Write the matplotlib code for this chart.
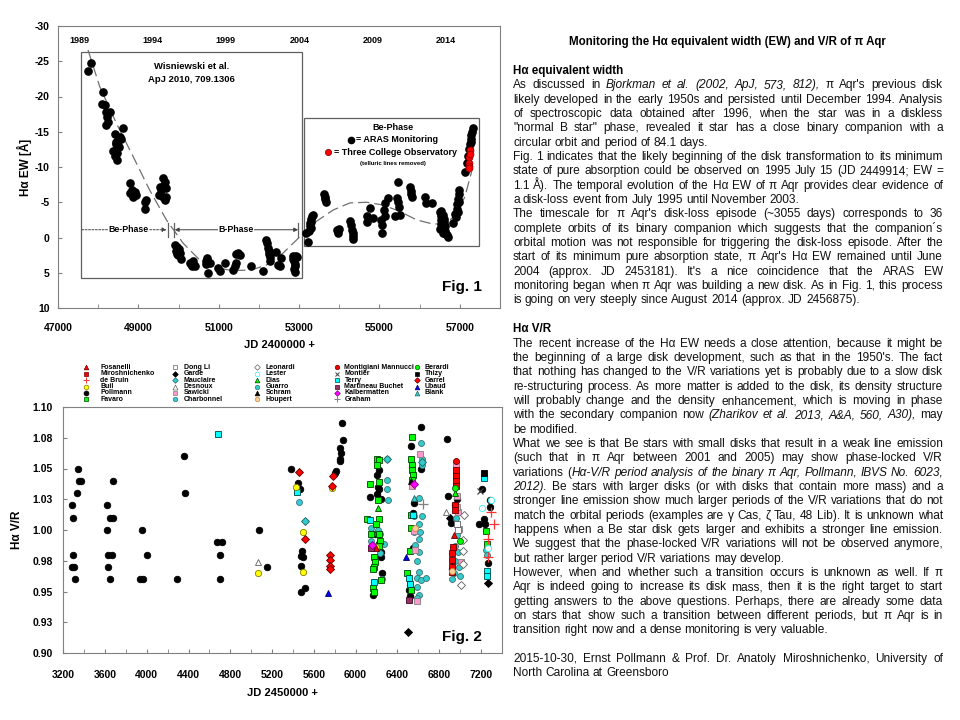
import matplotlib
matplotlib.use('Agg')
import matplotlib.pyplot as plt
from matplotlib.lines import Line2D
from matplotlib.patches import Rectangle
from matplotlib.font_manager import FontProperties

plt.rcParams['font.family'] = ['Liberation Sans', 'DejaVu Sans']
plt.rcParams['axes.unicode_minus'] = False

# ---------------- Fig. 1 data (JD-2400000, H-alpha EW) ----------------
wis_points = [(47747, -23.6), (47830, -24.7), (48120, -20.7), (48104, -18.9), (48162, -18.8),
              (48204, -17.8), (48287, -17.8), (48220, -17.1), (48204, -15.9), (48250, -16.4),
              (48411, -14.7), (48453, -13.5), (48494, -13.0), (48536, -14.2), (48577, -14.0),
              (48619, -15.5), (48470, -12.0), (48380, -12.3), (48420, -11.6), (48460, -11.0),
              (48440, -13.2), (48520, -12.8), (48500, -13.8),
              (48785, -7.7), (48830, -6.8), (48868, -6.2), (48870, -5.8), (48910, -6.5),
              (48800, -6.3), (48950, -6.0),
              (49158, -5.1), (49200, -5.3), (49170, -4.0),
              (49515, -6.0), (49532, -7.1), (49615, -8.4), (49573, -6.7), (49615, -5.8),
              (49656, -7.9), (49698, -7.0), (49656, -5.3), (49698, -5.8), (49640, -7.5),
              (49920, 1.0), (49960, 1.3), (49940, 1.9), (49990, 2.5), (50030, 2.2),
              (50050, 3.1), (49970, 2.3), (50010, 1.6),
              (50279, 3.6), (50320, 3.8), (50362, 3.3), (50403, 4.0), (50330, 4.1), (50380, 3.9),
              (50694, 3.3), (50740, 3.5), (50720, 2.9), (50690, 3.8), (50730, 5.0), (50777, 3.6),
              (50984, 4.3), (51026, 4.8), (51150, 3.6),
              (51358, 4.6), (51399, 4.1), (51440, 3.6), (51482, 2.2), (51524, 2.5), (51420, 2.3),
              (51814, 4.0), (52105, 4.8),
              (52188, 0.3), (52200, 0.8), (52229, 1.5), (52250, 1.9), (52271, 2.7), (52287, 3.3),
              (52260, 2.3),
              (52437, 2.0), (52478, 3.9), (52520, 4.0), (52561, 2.9),
              (52852, 2.6), (52870, 3.4), (52893, 4.0), (52880, 4.5), (52900, 4.9), (52935, 2.6),
              (52950, 2.7), (52860, 3.0), (52910, 3.7)]

aras_points = [(53167, -0.6), (53225, 0.6), (53250, -0.9), (53267, -1.6), (53290, -2.2),
               (53308, -2.6), (53330, -3.0), (53350, -3.2), (53300, -1.3), (53280, -2.0),
               (53620, -6.2), (53640, -5.5), (53660, -5.0), (53650, -5.8),
               (53931, -1.1), (53960, -0.6), (53990, -1.2),
               (54263, -2.3), (54290, -1.8), (54320, -1.0), (54346, -0.2), (54350, 0.2), (54330, -0.6),
               (54678, -3.0), (54700, -2.2), (54760, -4.2), (54840, -2.7),
               (55050, -2.5), (55060, -1.8), (55070, -0.6), (55110, -3.9), (55130, -3.0),
               (55140, -4.9), (55220, -5.6), (55380, -3.0),
               (55460, -7.9), (55440, -5.6), (55460, -5.0), (55480, -4.3), (55500, -3.2),
               (55770, -7.2), (55790, -6.6), (55800, -5.8), (55780, -6.1),
               (56130, -5.8), (56150, -4.9), (56300, -4.9),
               (56500, -3.6), (56520, -3.0), (56530, -2.5), (56540, -1.9), (56560, -1.4),
               (56570, -1.0), (56580, -3.2), (56600, -2.2), (56620, -1.6), (56640, -0.9),
               (56660, -0.5), (56680, -0.3), (56700, -0.1), (56510, -1.2), (56550, -2.8),
               (56590, -0.7), (56530, -3.8), (56610, -2.6),
               (56840, -2.0), (56880, -3.4), (56900, -2.9), (56920, -4.0), (56940, -4.7),
               (56960, -5.5), (56980, -6.2), (56990, -6.8), (56970, -5.0), (56950, -3.6),
               (57126, -9.3), (57170, -10.5), (57200, -11.5), (57230, -12.5), (57250, -13.2),
               (57270, -14.0), (57290, -14.5), (57300, -15.0), (57317, -15.5), (57280, -13.5)]

tco_points = [(57250, -12.4), (57230, -11.4), (57220, -10.6), (57240, -10.2), (57260, -11.8),
              (57230, -9.9)]

fit_jd = [47747, 48038, 48453, 48868, 49283, 49698, 50113, 50528, 50943, 51358, 51815, 52188,
          52603, 53018, 53433, 53848, 54263, 54678, 55093, 55508, 55923, 56338, 56670, 56919,
          57127, 57292]
fit_ew = [-26.6, -21.4, -16.2, -11.5, -6.7, -2.5, 0.8, 3.2, 4.3, 4.7, 4.6, 3.9,
          2.2, -0.1, -2.3, -3.9, -4.9, -5.0, -4.6, -3.7, -2.5, -1.9, -2.0, -3.4,
          -5.8, -9.3]

year_ticks = [1989, 1994, 1999, 2004, 2009, 2014]

# ---------------- Fig. 2 data (JD-2450000, H-alpha V/R) ----------------
fosanelli = [(6944, 0.996), (6200, 0.985)]
miroshnichenko = [(6960, 1.049), (6962, 1.044), (6962, 1.040), (6958, 1.036), (6952, 1.020),
                  (6950, 1.016), (6934, 0.986), (6928, 0.981), (6928, 0.976), (6928, 0.970),
                  (6928, 0.966)]
de_bruin = [(7302, 1.015), (7322, 1.005), (7264, 0.993), (7270, 0.978)]
buil = [(5062, 0.965), (5434, 1.035), (5498, 0.998), (5498, 0.966), (5777, 1.034), (6196, 0.986)]
pollmann = [(3280, 1.020), (3296, 1.010), (3296, 0.980), (3280, 0.970), (3302, 0.970), (3315, 0.960),
            (3344, 1.050), (3354, 1.040), (3366, 1.040), (3334, 1.030),
            (3616, 1.020), (3648, 1.010), (3680, 1.010), (3616, 1.000), (3632, 0.980), (3664, 0.980),
            (3632, 0.970), (3648, 0.960), (3680, 1.040),
            (3952, 1.000), (4000, 0.980), (3936, 0.960), (3962, 0.960), (4294, 0.960), (4352, 1.060),
            (4362, 1.030), (4672, 0.990), (4720, 0.990), (4704, 0.980), (4704, 0.960),
            (5072, 1.000), (5152, 0.970), (5383, 1.050), (5446, 1.038), (5463, 1.033), (5489, 0.983),
            (5480, 0.979), (5495, 0.978), (5479, 0.971), (5475, 0.950), (5520, 0.953),
            (5873, 1.087), (5882, 1.073), (5852, 1.067), (5858, 1.063), (5852, 1.058), (5848, 1.056),
            (5809, 1.048), (5800, 1.046),
            (6224, 1.049), (6208, 1.045), (6214, 1.035), (6224, 1.033), (6208, 1.029), (6134, 1.027),
            (6240, 1.025), (6182, 0.997), (6240, 0.982), (6246, 0.978), (6256, 0.965), (6170, 0.947),
            (6630, 1.084), (6528, 1.068), (6624, 1.050), (6560, 1.022), (6554, 1.014), (6510, 0.951),
            (6520, 0.946), (6555, 0.985),
            (6877, 1.074), (6890, 1.028), (6912, 1.006), (6950, 1.020), (6970, 1.025), (6930, 0.975),
            (6920, 0.968),
            (7216, 1.033), (7290, 1.024), (7286, 1.019), (7184, 1.005), (7232, 1.009), (7238, 1.005),
            (7270, 0.973)]
favaro = [(6202, 1.058), (6227, 1.057), (6208, 1.053), (6138, 1.037), (6224, 1.039), (6214, 1.024),
          (6106, 1.009), (6227, 1.009), (6192, 1.005), (6150, 0.997), (6224, 0.997), (6234, 0.991),
          (6224, 0.987), (6176, 0.978), (6182, 0.974), (6176, 0.970), (6170, 0.968), (6246, 0.959),
          (6170, 0.953), (6180, 0.950),
          (6538, 1.076), (6534, 1.058), (6544, 1.053), (6538, 1.049), (6550, 1.045), (6544, 1.041),
          (6528, 1.012), (6528, 1.002), (6522, 0.983), (6490, 0.965), (6522, 0.955), (6528, 0.951),
          (7248, 0.999), (7258, 0.989)]
dong_li = [(6976, 1.005), (6980, 1.000)]
garde = [(6502, 0.917), (7264, 0.957), (6230, 0.990), (6900, 1.010)]
mauclaire = [(5514, 1.007), (6298, 1.058), (6640, 1.055)]
desnoux = [(5062, 0.974), (6864, 1.015)]
sawicki = [(6614, 1.062), (6544, 1.036), (6560, 0.999), (6566, 0.984), (6592, 0.942), (6960, 1.053),
           (6970, 1.028), (6982, 1.015), (6975, 1.019), (6992, 1.001), (7008, 0.974), (6965, 1.045)]
charbonnel = [(5456, 1.023), (6160, 0.997), (6560, 0.998)]
leonardi = [(7040, 1.012), (7034, 0.992), (7027, 0.983), (7034, 0.972), (7014, 0.955)]
lester = [(7216, 1.018), (7302, 1.024), (7270, 0.985)]
dias = [(6214, 1.018), (6950, 1.030)]
guarro = [(6298, 1.058), (6298, 1.041), (6298, 1.033), (6310, 1.024), (6150, 1.002), (6234, 0.997),
          (6272, 0.989), (6192, 0.987), (6234, 0.981), (6256, 0.960), (6176, 0.985), (6216, 1.000),
          (6150, 0.991),
          (6630, 1.071), (6640, 1.058), (6640, 1.053), (6608, 1.026), (6528, 1.012), (6560, 1.011),
          (6640, 1.011), (6608, 1.005), (6618, 0.998), (6608, 0.993), (6566, 0.988), (6608, 0.982),
          (6592, 0.975), (6608, 0.966), (6592, 0.961), (6624, 0.959), (6672, 0.961), (6592, 0.954),
          (6608, 0.947), (6586, 0.945),
          (6976, 0.996), (6950, 0.987), (6928, 0.960), (6952, 0.975), (6990, 0.970), (6940, 0.965),
          (6960, 1.010), (6985, 0.982), (7000, 0.963),
          (7248, 0.984), (7262, 0.980)]
schram = [(6535, 1.040)]
houpert = [(6566, 1.002), (6928, 0.967)]
montigiani = [(6960, 1.056)]
montier = [(7194, 1.032)]
terry = [(4682, 1.078), (5440, 1.031), (6138, 1.008), (6176, 0.958), (6512, 0.961), (6520, 0.956),
         (7226, 1.0425), (7258, 0.967), (7262, 0.963), (6555, 1.012)]
martineau = [(6150, 0.985), (6512, 0.943)]
kalbermatten = [(6160, 0.988), (6560, 1.037)]
graham = [(6650, 1.021)]
berardi = [(6998, 0.991), (6952, 1.034)]
thizy = [(7226, 1.046)]
garrel = [(5456, 1.047), (5511, 0.993), (5783, 1.044), (5777, 1.036), (5752, 0.980), (5758, 0.976),
          (5752, 0.971), (5755, 0.968)]
ubaud = [(5738, 0.949), (6483, 0.978)]
blank = [(6560, 1.026)]

vr_tick_values = [0.900, 0.925, 0.950, 0.975, 1.000, 1.025, 1.050, 1.075, 1.100]
vr_tick_labels = ['0.90', '0.93', '0.95', '0.98', '1.00', '1.03', '1.05', '1.08', '1.10']

W, H = 960, 720
fig = plt.figure(figsize=(9.6, 7.2), dpi=100)
fig.patch.set_facecolor('white')


def fx(px):
    return px / W


def fy(py):
    return 1 - py / H


GRAY = '#808080'

# ======================= Fig. 1 =======================
ax1 = fig.add_axes([fx(58), fy(308), 442 / W, 282 / H])
ax1.set_xlim(47000, 58000)
ax1.set_ylim(10, -30)
for s in ax1.spines.values():
    s.set_color(GRAY)
ax1.set_xticks(range(47000, 58001, 2000))
ax1.set_xticks(range(48000, 58001, 2000), minor=True)
ax1.set_yticks(range(-30, 11, 5))
ax1.tick_params(axis='both', which='both', direction='in', length=3, color=GRAY,
                labelsize=7.5, top=False, right=False)
ax1.tick_params(axis='x', pad=11)
ax1.tick_params(axis='y', pad=6)
for lab in ax1.get_xticklabels() + ax1.get_yticklabels():
    lab.set_fontweight('bold')
ax1.set_xlabel('JD 2400000 +', fontsize=8, fontweight='bold', labelpad=5)
ax1.set_ylabel('Hα EW [Å]', fontsize=8.5, fontweight='bold', labelpad=2)

ax1.plot(fit_jd, fit_ew, color='#707070', lw=0.9, dashes=(9, 4), zorder=2)
ax1.plot([p[0] for p in wis_points], [p[1] for p in wis_points], 'o', color='black', ms=5.2, zorder=3)
ax1.plot([p[0] for p in aras_points], [p[1] for p in aras_points], 'o', color='black', ms=5.2, zorder=3)
ax1.plot([p[0] for p in tco_points], [p[1] for p in tco_points], 'o', mfc='red', mec='#800000',
         mew=0.5, ms=5.0, zorder=4)


def jd2yr(jd):
    return 1989 + (jd - 47527.5) / 365.25


def yr2jd(yr):
    return 47527.5 + (yr - 1989) * 365.25


sec = ax1.secondary_xaxis('top', functions=(jd2yr, yr2jd))
sec.set_xticks(year_ticks)
sec.tick_params(length=0, pad=-14, labelsize=6.5)
sec.spines['top'].set_visible(False)
for lab in sec.get_xticklabels():
    lab.set_fontweight('bold')

ax1.add_patch(Rectangle((47572, -26.3), 53070 - 47572, 5.7 + 26.3, fill=False, ec='#606060', lw=0.9, zorder=1))
ax1.add_patch(Rectangle((53119, -17.0), 57473 - 53119, 1.2 + 17.0, fill=False, ec='#606060', lw=0.9, zorder=1))

fig.text(fx(191.7), fy(66.7), 'Wisniewski et al.', ha='center', va='center', fontsize=6.8, fontweight='bold')
fig.text(fx(191.7), fy(79), 'ApJ 2010, 709.1306', ha='center', va='center', fontsize=6.8, fontweight='bold')
fig.text(fx(393.3), fy(127.7), 'Be-Phase', ha='center', va='center', fontsize=6.5, fontweight='bold')
fig.add_artist(Line2D([fx(350.7)], [fy(140)], marker='o', color='black', ms=4.5, transform=fig.transFigure))
fig.text(fx(355.5), fy(140), '= ARAS Monitoring', ha='left', va='center', fontsize=6.5, fontweight='bold')
fig.add_artist(Line2D([fx(328.3)], [fy(152.3)], marker='o', mfc='red', mec='#800000', mew=0.5, ms=4.5,
                      transform=fig.transFigure))
fig.text(fx(333.5), fy(152.3), '= Three College Observatory', ha='left', va='center', fontsize=6.5,
         fontweight='bold')
fig.text(fx(392.7), fy(163), '(telluric lines removed)', ha='center', va='center', fontsize=4.3,
         fontweight='bold')
fig.text(fx(461.7), fy(287.3), 'Fig. 1', ha='center', va='center', fontsize=11, fontweight='bold')

ax1.annotate('', xy=(49700, -1.1), xytext=(47590, -1.1),
             arrowprops=dict(arrowstyle='-|>', ls=(0, (2, 1.5)), lw=0.7, color='#404040',
                             mutation_scale=6, shrinkA=0, shrinkB=0))
ax1.annotate('', xy=(49905, -1.1), xytext=(52976, -1.1),
             arrowprops=dict(arrowstyle='<|-|>', lw=0.7, color='#404040', mutation_scale=6,
                             shrinkA=0, shrinkB=0))
for xv in (49735, 49890, 52980):
    ax1.plot([xv, xv], [-2.0, -0.1], color='#606060', lw=0.9)
ax1.text(48743, -1.1, 'Be-Phase', ha='center', va='center', fontsize=6.3, fontweight='bold',
         bbox=dict(fc='white', ec='none', pad=0.3))
ax1.text(51424, -1.1, 'B-Phase', ha='center', va='center', fontsize=6.3, fontweight='bold',
         bbox=dict(fc='white', ec='none', pad=0.3))

# ======================= Fig. 2 =======================
ax2 = fig.add_axes([fx(63.3), fy(653), 438.4 / W, 246 / H])
ax2.set_xlim(3200, 7400)
ax2.set_ylim(0.9, 1.1)
for s in ax2.spines.values():
    s.set_color(GRAY)
ax2.set_xticks(range(3200, 7201, 400))
ax2.set_xticks(range(3400, 7401, 400), minor=True)
ax2.set_yticks(vr_tick_values)
ax2.set_yticklabels(vr_tick_labels)
ax2.tick_params(axis='both', which='both', direction='in', length=3, color=GRAY,
                labelsize=7.5, top=False, right=False)
ax2.tick_params(axis='x', pad=12)
ax2.tick_params(axis='y', pad=7.5)
for lab in ax2.get_xticklabels() + ax2.get_yticklabels():
    lab.set_fontweight('bold')
ax2.set_xlabel('JD 2450000 +', fontsize=8, fontweight='bold', labelpad=6)
ax2.set_ylabel('Hα V/R', fontsize=8.5, fontweight='bold', labelpad=7)

legend_entries = [
    ('Fosanelli', fosanelli, '^', 'red', '#600000', 4.5),
    ('Miroshnichenko', miroshnichenko, 's', 'red', '#600000', 4.5),
    ('de Bruin', de_bruin, '+', '#ff3333', '#ff3333', 6.5),
    ('Buil', buil, 'o', '#ffff00', '#808000', 4.5),
    ('Pollmann', pollmann, 'o', 'black', 'black', 4.7),
    ('Favaro', favaro, 's', '#00ff00', '#004000', 4.5),
    ('Dong Li', dong_li, 's', 'white', '#606060', 4.5),
    ('Garde', garde, 'D', 'black', 'black', 3.8),
    ('Mauclaire', mauclaire, 'D', '#33cccc', '#206060', 3.8),
    ('Desnoux', desnoux, '^', 'white', '#606060', 4.8),
    ('Sawicki', sawicki, 's', '#ff99cc', '#808080', 4.5),
    ('Charbonnel', charbonnel, 'o', '#33ccdd', '#407080', 4.3),
    ('Leonardi', leonardi, 'D', 'white', '#606060', 3.8),
    ('Lester', lester, 'o', 'white', '#33eeff', 4.5),
    ('Dias', dias, '^', '#00ff00', '#004000', 4.5),
    ('Guarro', guarro, 'o', '#33cccc', '#407070', 4.3),
    ('Schram', schram, '^', 'black', 'black', 4.5),
    ('Houpert', houpert, 'o', '#ffcc99', '#cc8844', 4.3),
    ('Montigiani Mannucci', montigiani, 'o', 'red', '#600000', 4.3),
    ('Montier', montier, 'x', '#404040', '#404040', 4.0),
    ('Terry', terry, 's', '#00ffff', '#004040', 4.5),
    ('Martineau Buchet', martineau, 's', '#993366', '#400020', 4.5),
    ('Kalbermatten', kalbermatten, 'D', '#ff00ff', '#800080', 3.8),
    ('Graham', graham, '+', '#808080', '#808080', 6.5),
    ('Berardi', berardi, 'o', '#00ff00', '#006000', 4.3),
    ('Thizy', thizy, 's', 'black', 'black', 4.5),
    ('Garrel', garrel, 'D', 'red', '#600000', 3.8),
    ('Ubaud', ubaud, '^', '#0000ff', '#000060', 4.5),
    ('Blank', blank, '^', '#33cccc', '#206060', 4.5),
]

draw_order = ['Pollmann', 'Garde', 'Guarro', 'Charbonnel', 'Mauclaire', 'Favaro', 'Sawicki',
              'Miroshnichenko', 'Terry', 'Buil', 'Garrel', 'Fosanelli', 'de Bruin', 'Dong Li',
              'Desnoux', 'Leonardi', 'Lester', 'Dias', 'Schram', 'Houpert', 'Montigiani Mannucci',
              'Montier', 'Martineau Buchet', 'Kalbermatten', 'Graham', 'Berardi', 'Thizy',
              'Ubaud', 'Blank']
by_name = {e[0]: e for e in legend_entries}
for z, name in enumerate(draw_order):
    _, data, mk, fc, ec, ms = by_name[name]
    xs = [p[0] for p in data]
    ys = [p[1] for p in data]
    if mk in ('+', 'x'):
        ax2.plot(xs, ys, mk, color=fc, ms=ms, mew=0.9, zorder=3 + z * 0.01)
    else:
        ax2.plot(xs, ys, mk, mfc=fc, mec=ec, mew=0.6, ms=ms, zorder=3 + z * 0.01)

fig.text(fx(461.7), fy(637.3), 'Fig. 2', ha='center', va='center', fontsize=11, fontweight='bold')

col_marker_x = [85.7, 175, 256.7, 336.7, 417.3]
col_text_x = [100.5, 184, 265.5, 344.5, 424.5]
for i, (name, data, mk, fc, ec, ms) in enumerate(legend_entries):
    col, row = divmod(i, 6)
    yy = 367.2 + row * 6.45
    if mk in ('+', 'x'):
        fig.add_artist(Line2D([fx(col_marker_x[col])], [fy(yy)], marker=mk, color=fc, ms=ms * 0.7,
                              mew=0.7, transform=fig.transFigure))
    else:
        fig.add_artist(Line2D([fx(col_marker_x[col])], [fy(yy)], marker=mk, mfc=fc, mec=ec, mew=0.5,
                              ms=ms * 0.75, transform=fig.transFigure))
    fig.text(fx(col_text_x[col]), fy(yy), name, ha='left', va='center', fontsize=5.0, fontweight='bold')

# ======================= Right text column =======================
title = 'Monitoring the Hα equivalent width (EW) and V/R of π Aqr'
heading1 = 'Hα equivalent width'
heading2 = 'Hα V/R'
para1_lines = [
    ('As discussed in {Bjorkman et al. (2002, ApJ, 573, 812),} π Aqr\'s previous disk', False),
    ('likely developed in the early 1950s and persisted until December 1994. Analysis', False),
    ('of spectroscopic data obtained after 1996, when the star was in a diskless', False),
    ('"normal B star" phase, revealed it star has a close binary companion with a', False),
    ('circular orbit and period of 84.1 days.', True),
    ('Fig. 1 indicates that the likely beginning of the disk transformation to its minimum', False),
    ('state of pure absorption could be observed on 1995 July 15 (JD 2449914; EW =', False),
    ('1.1 Å). The temporal evolution of the Hα EW of π Aqr provides clear evidence of', False),
    ('a disk-loss event from July 1995 until November 2003.', True),
    ('The timescale for π Aqr\'s disk-loss episode (~3055 days) corresponds to 36', False),
    ('complete orbits of its binary companion which suggests that the companion´s', False),
    ('orbital motion was not responsible for triggering the disk-loss episode. After the', False),
    ('start of its minimum pure absorption state, π Aqr\'s Hα EW remained until June', False),
    ('2004 (approx. JD 2453181). It\'s a nice coincidence that the ARAS EW', False),
    ('monitoring began when π Aqr was building a new disk. As in Fig. 1, this process', False),
    ('is going on very steeply since August 2014 (approx. JD 2456875).', True),
]
para2_lines = [
    ('The recent increase of the Hα EW needs a close attention, because it might be', False),
    ('the beginning of a large disk development, such as that in the 1950\'s. The fact', False),
    ('that nothing has changed to the V/R variations yet is probably due to a slow disk', False),
    ('re-structuring process. As more matter is added to the disk, its density structure', False),
    ('will probably change and the density enhancement, which is moving in phase', False),
    ('with the secondary companion now {(Zharikov et al. 2013, A&A, 560, A30),} may', False),
    ('be modified.', True),
    ('What we see is that Be stars with small disks that result in a weak line emission', False),
    ('(such that in π Aqr between 2001 and 2005) may show phase-locked V/R', False),
    ('variations ({Hα-V/R period analysis of the binary π Aqr, Pollmann, IBVS No. 6023,}', False),
    ('{2012).} Be stars with larger disks (or with disks that contain more mass) and a', False),
    ('stronger line emission show much larger periods of the V/R variations that do not', False),
    ('match the orbital periods (examples are γ Cas, ζ Tau, 48 Lib). It is unknown what', False),
    ('happens when a Be star disk gets larger and exhibits a stronger line emission.', False),
    ('We suggest that the phase-locked V/R variations will not be observed anymore,', False),
    ('but rather larger period V/R variations may develop.', True),
    ('However, when and whether such a transition occurs is unknown as well. If π', False),
    ('Aqr is indeed going to increase its disk mass, then it is the right target to start', False),
    ('getting answers to the above questions. Perhaps, there are already some data', False),
    ('on stars that show such a transition between different periods, but π Aqr is in', False),
    ('transition right now and a dense monitoring is very valuable.', True),
    ('', True),
    ('2015-10-30, Ernst Pollmann & Prof. Dr. Anatoly Miroshnichenko, University of', False),
    ('North Carolina at Greensboro', True),
]

fig.text(fx(727.5), fy(41.7), title, ha='center', va='center', fontsize=8.3, fontweight='bold')
fig.text(fx(513), fy(70.7), heading1, ha='left', va='center', fontsize=8.4, fontweight='bold')
fig.text(fx(513), fy(329), heading2, ha='left', va='center', fontsize=8.4, fontweight='bold')

renderer = fig.canvas.get_renderer()
LEFT, RIGHT = 513.0, 943.0


def text_width(s, italic, size):
    fp = FontProperties(family='Liberation Sans', style='italic' if italic else 'normal', size=size)
    w, h, d = renderer.get_text_width_height_descent(s, fp, ismath=False)
    return w


def split_runs(word, italic):
    runs, cur = [], ''
    for ch in word:
        if ch == '{':
            if cur:
                runs.append((cur, italic))
            cur, italic = '', True
        elif ch == '}':
            if cur:
                runs.append((cur, italic))
            cur, italic = '', False
        else:
            cur += ch
    if cur:
        runs.append((cur, italic))
    return runs, italic


def parse(lines):
    out, italic = [], False
    for line, last in lines:
        words = []
        if line:
            for w in line.split(' '):
                runs, italic = split_runs(w, italic)
                words.append(runs)
        out.append((words, last))
    return out


blocks = [(parse(para1_lines), 84.3), (parse(para2_lines), 342.7)]

ref_size = 8.0
sp_ref = text_width('a a', False, ref_size) - text_width('aa', False, ref_size)
widest = 0
for parsed, _ in blocks:
    for words, last in parsed:
        if words and not last:
            tot = sum(text_width(t, it, ref_size) for runs in words for t, it in runs)
            tot += sp_ref * (len(words) - 1)
            widest = max(widest, tot)
BODY_SIZE = min(9.0, ref_size * (RIGHT - LEFT) / widest)
space_w = text_width('a a', False, BODY_SIZE) - text_width('aa', False, BODY_SIZE)


def draw_block(parsed, y0, step):
    for i, (words, last) in enumerate(parsed):
        if not words:
            continue
        yc = y0 + i * step
        widths = [sum(text_width(t, it, BODY_SIZE) for t, it in runs) for runs in words]
        total = sum(widths)
        if last or len(words) < 2:
            gap = space_w
        else:
            gap = max((RIGHT - LEFT - total) / (len(words) - 1), space_w * 0.5)
        x = LEFT
        for runs, wd in zip(words, widths):
            xx = x
            for t, it in runs:
                fig.text(fx(xx), fy(yc + 4.0), t, ha='left', va='baseline', fontsize=BODY_SIZE,
                         style='italic' if it else 'normal', color='#111111')
                xx += text_width(t, it, BODY_SIZE)
            x += wd + gap


for parsed, y0 in blocks:
    draw_block(parsed, y0, 14.33)

fig.savefig('out.png', dpi=100, facecolor='white')
